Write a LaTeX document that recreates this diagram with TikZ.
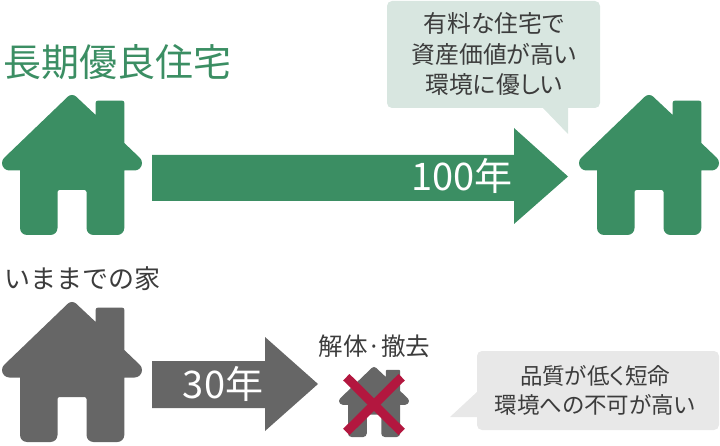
\documentclass[tikz,border=0pt]{standalone}
\usepackage{fontspec}
\setmainfont[RawFeature={+palt}]{Noto Sans CJK JP}
\newfontfamily\fullwidth{Noto Sans CJK JP}
\usepackage{tikz}
\usetikzlibrary{positioning}
\definecolor{leaf}{HTML}{3B8E63}
\definecolor{leafpale}{HTML}{D8E6E0}
\definecolor{ash}{HTML}{666666}
\definecolor{ashpale}{HTML}{E8E8E8}
\definecolor{ink}{HTML}{3C3C3C}
\definecolor{crossred}{HTML}{B3173F}
\tikzset{
  txt/.style={inner sep=0pt, text=ink, align=center},
  talk/.style={txt, font=\fontsize{23.8}{30.5}\selectfont},
  span/.style={inner sep=0pt, text=white, font=\fontsize{38}{38}\selectfont}
}

\begin{document}
\begin{tikzpicture}[x=1pt, y=-1pt]

	\useasboundingbox (0,0) rectangle (720,446);

	% houses
	\foreach \name/\x/\y/\s/\col in {a/0/0/1/leaf, b/577/0/1/leaf, c/0/207/1/ash, d/338/319.5/0.5/ash} {
		\begin{scope}[shift={(\x,\y)}, scale=\s]
		\fill[\col] (67.76,96.74) .. controls (70.1,94.4) and (73.9,94.4) .. (76.24,96.74) -- (95.7,115)
			[rounded corners=\s*2pt] -- (95.7,100.7) -- (124.3,100.7) [sharp corners] -- (124.3,143)
			-- (139.84,157.84) .. controls (141.23,159.23) and (142,161.14) .. (142,163.1)
			.. controls (142,167.19) and (138.69,170.5) .. (134.6,170.5) -- (124.3,170.5)
			[rounded corners=\s*7pt] -- (124.3,235) -- (86.5,235) [rounded corners=\s*2pt] -- (86.5,190) -- (57.5,190)
			[rounded corners=\s*7pt] -- (57.5,235) -- (20,235) [sharp corners] -- (20,170.5) -- (9.4,170.5)
			.. controls (5.31,170.5) and (2,167.19) .. (2,163.1)
			.. controls (2,161.14) and (2.77,159.23) .. (4.16,157.84) -- cycle;
		\end{scope}
	}

	% arrows
	\fill[leaf] (152,155) -- (514,155) -- (514,128) -- (568,176.5) -- (514,224) -- (514,201) -- (152,201) -- cycle;
	\fill[ash] (152,361) -- (265,361) -- (265,337) -- (318,384) -- (265,431) -- (265,408) -- (152,408) -- cycle;
	\node[span] (hundred) at (462,176) {100年};
	\node[span] (thirty) at (223,384) {30年};

	% cross
	\draw[crossred, line width=9pt] (346.3,377.2) -- (401.7,432);
	\draw[crossred, line width=9pt] (401.7,377.2) -- (346.3,432);

	% balloons
	\fill[leafpale, rounded corners=5pt] (387,1) -- (600,1) -- (600,108) [sharp corners] -- (568,108) -- (568,134) -- (543,108)
		[rounded corners=5pt] -- (387,108) -- cycle;
	\fill[ashpale, rounded corners=5pt] (477,351) -- (719,351) -- (719,430) -- (477,430) [sharp corners] -- (477,417) -- (450,417) -- (477,392)
		[rounded corners=5pt] -- cycle;

	\node[talk] (good) at (494,54) {有料な住宅で\\資産価値が高い\\環境に優しい};
	\node[talk, font=\fontsize{22.5}{29}\selectfont] (bad) at (595,390) {品質が低く短命\\環境への不可が高い};

	% labels
	\node[txt, text=leaf, anchor=west, font=\fontsize{38}{38}\selectfont] (longlife) at (3,62) {長期優良住宅};
	\node[txt, anchor=west, font=\fullwidth\fontsize{26}{26}\selectfont] (sofar) at (4,279) {いままでの家};
	\node[txt, font=\fontsize{24.5}{26}\selectfont] (demolish) at (374.5,346) {解体·撤去};

\end{tikzpicture}
\end{document}
